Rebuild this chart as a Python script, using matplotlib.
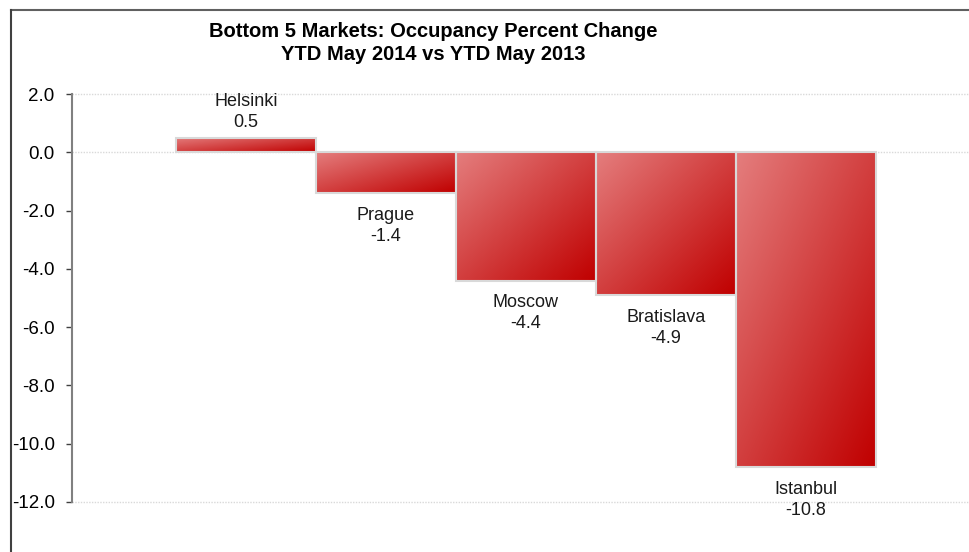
import numpy as np
import matplotlib
matplotlib.use("Agg")
import matplotlib.pyplot as plt
from matplotlib.lines import Line2D

## Data

markets = ["Helsinki", "Prague", "Moscow", "Bratislava", "Istanbul"]
change = [0.5, -1.4, -4.4, -4.9, -10.8]
yticks = [2.0, 0.0, -2.0, -4.0, -6.0, -8.0, -10.0, -12.0]

plt.rcParams["font.family"] = ["Liberation Sans", "DejaVu Sans"]

fig = plt.figure(figsize=(9.69, 5.52), dpi=100)
ax = fig.add_axes([72 / 969, 1 - 502 / 552, 1 - 72 / 969, (502 - 94) / 552])

## Bars with a diagonal gradient fill

c0 = np.array([228, 125, 125]) / 255
c1 = np.array([192, 0, 0]) / 255
n = 60
xx, yy = np.meshgrid(np.linspace(0, 1, n), np.linspace(0, 1, n))
t = (xx + yy) / 2
grad = c0 * (1 - t[..., None]) + c1 * t[..., None]

x = np.arange(len(markets))
bars = ax.bar(x, change, width=1.0, facecolor="none", edgecolor="#d9d9d9",
              linewidth=1.5, zorder=3)
for b, v in zip(bars, change):
    x0, x1 = b.get_x(), b.get_x() + b.get_width()
    top, bot = max(v, 0), min(v, 0)
    im = ax.imshow(grad, extent=(x0, x1, bot, top), origin="upper",
                   aspect="auto", zorder=2, interpolation="bilinear")
    im.set_clip_path(b)

## Labels

for xi, name, v in zip(x, markets, change):
    if v >= 0:
        ax.annotate("%s\n%.1f" % (name, v), (xi, v), xytext=(0, 5),
                    textcoords="offset points", ha="center", va="bottom",
                    fontsize=13, linespacing=1.3, color="#1a1a1a")
    else:
        ax.annotate("%s\n%.1f" % (name, v), (xi, v), xytext=(0, -10),
                    textcoords="offset points", ha="center", va="top",
                    fontsize=13, linespacing=1.3, color="#1a1a1a")

## Axes styling

ax.set_xlim((72 - 246) / 140, (969 - 246) / 140)
ax.set_ylim(-12, 2)
ax.set_yticks(yticks)
ax.set_yticklabels(["%.1f" % v for v in yticks], fontsize=13.5)
ax.set_xticks([])
for s in ["top", "right", "bottom"]:
    ax.spines[s].set_visible(False)
ax.spines["left"].set_color("#808080")
ax.spines["left"].set_linewidth(1.5)
ax.tick_params(axis="y", length=4.5, width=1, color="#404040", pad=8)
for yv in [2.0, 0.0, -12.0]:
    ax.axhline(yv, color="#d9d9d9", linestyle=(0, (1, 1)), linewidth=1,
               zorder=1, clip_on=False)

## Title

fig.text(433 / 969, 1 - 43 / 552,
         "Bottom 5 Markets: Occupancy Percent Change\nYTD May 2014 vs YTD May 2013",
         ha="center", va="center", fontsize=14.5, fontweight="bold", linespacing=1.25)

## Outer frame (top and left edges)

fig.add_artist(Line2D([11 / 969, 1], [1 - 10 / 552, 1 - 10 / 552],
                      transform=fig.transFigure, color="#606060", linewidth=1.5))
fig.add_artist(Line2D([11 / 969, 11 / 969], [0, 1 - 10 / 552],
                      transform=fig.transFigure, color="#404040", linewidth=1.5))

plt.savefig("out.png", dpi=100)
